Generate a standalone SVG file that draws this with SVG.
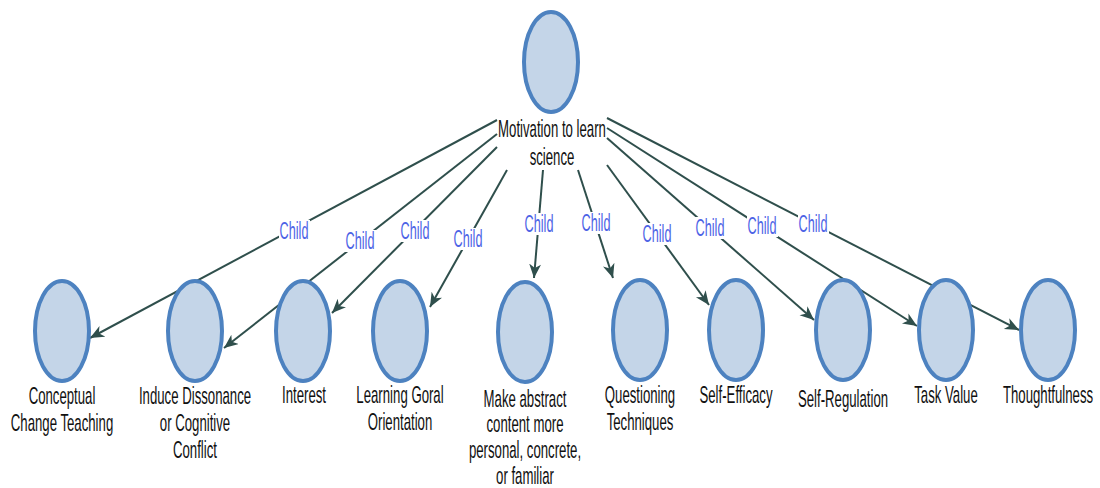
<svg xmlns="http://www.w3.org/2000/svg" width="1100" height="488" viewBox="0 0 1100 488">
<style>
.node ellipse{fill:#c4d5e8;stroke:#4d82c0;stroke-width:4}
.lbl{font-family:"Liberation Sans",Arial,sans-serif;font-size:24px;fill:#111;text-anchor:middle}
.edge line{stroke:#2f4f4c;stroke-width:2;marker-end:url(#arr)}
.edge rect{fill:#fff}
.el{font-family:"Liberation Sans",Arial,sans-serif;font-size:23px;fill:#4d63e6;text-anchor:middle}
</style>
<defs>
<marker id="arr" markerUnits="userSpaceOnUse" markerWidth="16" markerHeight="14" refX="14" refY="6" orient="auto">
<path d="M0,0 L14,6 L0,12 L4,6 Z" fill="#2f4f4c"/>
</marker>
</defs>
<rect width="1100" height="488" fill="#fff"/>
<g id="connectors">
<g class="edge"><line x1="497" y1="120" x2="90" y2="338"/><rect x="279" y="220" width="31" height="22"/><text class="el" transform="translate(294,239) scale(0.55,1)">Child</text></g>
<g class="edge"><line x1="497" y1="134" x2="224" y2="348"/><rect x="345" y="230" width="31" height="22"/><text class="el" transform="translate(360,249) scale(0.55,1)">Child</text></g>
<g class="edge"><line x1="497" y1="147" x2="332" y2="313"/><rect x="400" y="220" width="31" height="22"/><text class="el" transform="translate(415,239) scale(0.55,1)">Child</text></g>
<g class="edge"><line x1="507" y1="170" x2="430" y2="307"/><rect x="453" y="228" width="31" height="22"/><text class="el" transform="translate(468,247) scale(0.55,1)">Child</text></g>
<g class="edge"><line x1="543" y1="170" x2="534" y2="278"/><rect x="524" y="213" width="31" height="22"/><text class="el" transform="translate(539,232) scale(0.55,1)">Child</text></g>
<g class="edge"><line x1="578" y1="170" x2="613" y2="278"/><rect x="581" y="212" width="31" height="22"/><text class="el" transform="translate(596,231) scale(0.55,1)">Child</text></g>
<g class="edge"><line x1="607" y1="165" x2="709" y2="305"/><rect x="642" y="223" width="31" height="22"/><text class="el" transform="translate(657,242) scale(0.55,1)">Child</text></g>
<g class="edge"><line x1="607" y1="138" x2="814" y2="320"/><rect x="695" y="217" width="31" height="22"/><text class="el" transform="translate(710,236) scale(0.55,1)">Child</text></g>
<g class="edge"><line x1="607" y1="128" x2="917" y2="326"/><rect x="747" y="215" width="31" height="22"/><text class="el" transform="translate(762,234) scale(0.55,1)">Child</text></g>
<g class="edge"><line x1="607" y1="118" x2="1019" y2="330"/><rect x="798" y="213" width="31" height="22"/><text class="el" transform="translate(813,232) scale(0.55,1)">Child</text></g>
</g>
<g id="root" class="node"><ellipse cx="551" cy="62" rx="27" ry="50"/><text class="lbl" transform="translate(552,137) scale(0.55,1)"><tspan x="0">Motivation to learn</tspan><tspan x="0" dy="28">science</tspan></text></g>
<g id="n1" class="node"><ellipse cx="62" cy="331" rx="27" ry="50"/><text class="lbl" transform="translate(62,404) scale(0.55,1)"><tspan x="0">Conceptual</tspan><tspan x="0" dy="27">Change Teaching</tspan></text></g>
<g id="n2" class="node"><ellipse cx="195" cy="331" rx="27" ry="50"/><text class="lbl" transform="translate(195,404) scale(0.55,1)"><tspan x="0">Induce Dissonance</tspan><tspan x="0" dy="27">or Cognitive</tspan><tspan x="0" dy="27">Conflict</tspan></text></g>
<g id="n3" class="node"><ellipse cx="303" cy="331" rx="27" ry="50"/><text class="lbl" transform="translate(304,403) scale(0.55,1)">Interest</text></g>
<g id="n4" class="node"><ellipse cx="400" cy="331" rx="27" ry="50"/><text class="lbl" transform="translate(400,403) scale(0.55,1)"><tspan x="0">Learning Goral</tspan><tspan x="0" dy="27">Orientation</tspan></text></g>
<g id="n5" class="node"><ellipse cx="525" cy="332" rx="27" ry="50"/><text class="lbl" transform="translate(525,407) scale(0.55,1)"><tspan x="0">Make abstract</tspan><tspan x="0" dy="25">content more</tspan><tspan x="0" dy="26">personal, concrete,</tspan><tspan x="0" dy="26">or familiar</tspan></text></g>
<g id="n6" class="node"><ellipse cx="640" cy="330" rx="27" ry="50"/><text class="lbl" transform="translate(640,403) scale(0.55,1)"><tspan x="0">Questioning</tspan><tspan x="0" dy="27">Techniques</tspan></text></g>
<g id="n7" class="node"><ellipse cx="736" cy="330" rx="27" ry="50"/><text class="lbl" transform="translate(736,403) scale(0.55,1)">Self-Efficacy</text></g>
<g id="n8" class="node"><ellipse cx="843" cy="330" rx="27" ry="50"/><text class="lbl" transform="translate(843,407) scale(0.55,1)">Self-Regulation</text></g>
<g id="n9" class="node"><ellipse cx="946" cy="330" rx="27" ry="50"/><text class="lbl" transform="translate(946,403) scale(0.55,1)">Task Value</text></g>
<g id="n10" class="node"><ellipse cx="1048" cy="330" rx="27" ry="50"/><text class="lbl" transform="translate(1048,403) scale(0.55,1)">Thoughtfulness</text></g>
</svg>
